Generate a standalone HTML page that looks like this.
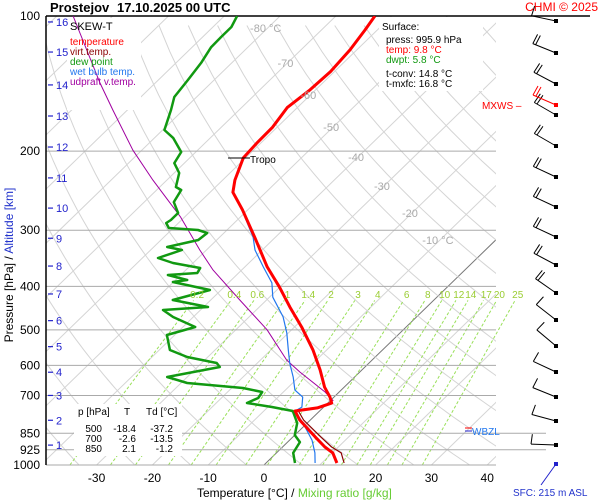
<!DOCTYPE html>
<html><head><meta charset="utf-8"><style>
html,body{margin:0;padding:0;background:#fff;}
svg{display:block;font-family:"Liberation Sans",sans-serif;}
</style></head><body>
<svg id="c" width="600" height="500" viewBox="0 0 600 500">
<defs>
<clipPath id="plot"><rect x="46" y="16" width="450" height="449"/></clipPath>
<clipPath id="plotw"><rect x="46" y="16" width="480" height="449"/></clipPath>
</defs>
<g id="grid" clip-path="url(#plot)"></g>
<g id="mix" clip-path="url(#plotw)"></g>
<g id="isobars"></g>
<g id="boxes">
<rect x="67" y="18" width="74" height="92" fill="#fff"/>
<rect x="379" y="17" width="104" height="74" fill="#fff"/>
<rect x="74" y="404" width="108" height="52" fill="#fff"/>
</g>
<g id="series" clip-path="url(#plot)"></g>
<g id="labels"></g>
</svg>
<script>
// ---- data ----
const isobarLevels=[200,300,400,500,600,700,850,925,1000];
const tempTicks=[-30,-20,-10,0,10,20,30,40];
const isothermLabels=[-80,-70,-60,-50,-40,-30,-20,-10];
const mixRatios=[0.2,0.4,0.6,1,1.4,2,3,4,6,8,10,12,14,17,20,25];
const altKm=[16,15,14,13,12,11,10,9,8,7,6,5,4,3,2,1];
const altPres=[103.1,120.3,142.4,167,195.8,229.4,267.8,312.6,360.5,416,477,545,621.4,700,795,903];
const tempP=[100,107.4,119,133,146,160,177,192,207,232,247,270,311,362,402,445,493,554,614,671,706,728,746,758,794,866,912,940,990];
const tempT=[-63,-62.2,-61.2,-60.7,-61,-61.8,-60.8,-60.7,-60.4,-57.8,-55.9,-51,-43.7,-36,-30,-24.5,-18.7,-12.5,-7.5,-3.5,-0.7,0.7,-1,-4.4,-1.9,4,7.6,10.1,12.7];
const virtP=[746,758,794,866,912,940,990];
const virtT=[-0.6,-3.8,-1.2,5.0,8.8,11.6,14.0];
const wetP=[100,107.4,119,133,146,160,177,192,207,232,247,270,311,332,362,393,423,468,508,554,593,637,681,706,743,758,806,880,940,990];
const wetT=[-63.1,-62.3,-61.3,-60.8,-61.1,-61.9,-60.9,-60.8,-60.5,-57.9,-56,-51.1,-44,-41.3,-36.7,-32.2,-29.4,-23.9,-20.3,-16.9,-14.2,-11,-8.3,-5.6,-3.9,-4.4,-0.8,4,6.9,8.8];
const dewP=[100,105.8,111.4,117.3,127.2,138.8,151.5,161.9,179.4,187,200.9,212.6,223.7,240.4,244.1,259.7,274.7,284.7,289.1,296.6,299.7,304.3,315.4,326.9,332,345.9,354.9,364.1,373.6,377.4,387.3,391.2,407.6,429.1,444.7,451.7,468.2,492.8,513.4,554.4,574.8,592.8,605.1,636.8,656.7,673.7,687.7,709.2,727.6,742.7,758.2,806.4,857.7,889,940,990];
const dewT=[-87.7,-86.7,-86.7,-86.6,-85.5,-84.7,-84,-82.2,-79.7,-76.6,-72.6,-71.8,-69.1,-67.1,-65.6,-64.7,-61.9,-61.9,-62.2,-60.8,-55.2,-53,-53.3,-57.6,-54.4,-57.2,-53.6,-47.8,-47.4,-52.3,-47.9,-50.1,-42,-46.8,-39.2,-46.7,-43.6,-37.8,-41.4,-38.1,-33.7,-27.3,-26,-33.6,-28.9,-18,-13.8,-13.4,-14.5,-9.3,-4.8,-1.8,0,2.2,3,5.2];
const parcelP=[100,141,162,199,232,280,332,368,429,500,584,621,688,720];
const parcelT=[-117.1,-99.9,-92.6,-81.6,-72.5,-60.8,-51.2,-45.1,-34.8,-24.4,-15.3,-10.7,-2.5,0.6];
const windY=[21,53,84,115,146,177,207,237,265,293,320,346,372,397,421,445];
const windAng=[-12,-22,-28,-30,-30,-25,-25,-25,-28,-35,-38,-40,-25,-22,-15,-2];
const windFeathers=[1,2,2,2,2,2,2,2,2,2,1,1,1,1,1,1];

// ---- axes ----
const NS='http://www.w3.org/2000/svg';
function yP(p){return 16+Math.log10(p/100)*449;}
function xT(t,p){return 264+5.58*t+1.03*(465-yP(p));}
function mk(tag,attrs,parent){const e=document.createElementNS(NS,tag);for(const k in attrs)e.setAttribute(k,attrs[k]);parent.appendChild(e);return e;}
function txt(s,x,y,attrs,parent){const e=mk('text',Object.assign({x:x,y:y,'font-size':11},attrs),parent);e.textContent=s;return e;}
const grid=document.getElementById('grid'),mix=document.getElementById('mix'),iso=document.getElementById('isobars'),ser=document.getElementById('series'),lab=document.getElementById('labels');

for(let t=-150;t<=50;t+=10){
  const l=mk('line',{x1:xT(t,1000),y1:yP(1000),x2:xT(t,100),y2:yP(100),stroke:t===0?'#777':'#d4d4d4','stroke-width':1},grid);
  
  
}
for(let th=240;th<=500;th+=10){
  let d='';
  for(let p=1050;p>=95;p-=15){const T=th*Math.pow(p/1000,0.286)-273.15;d+=(d?'L':'M')+xT(T,p).toFixed(1)+','+yP(p).toFixed(1);}
  const a=mk('path',{d:d,fill:'none',stroke:'#d4d4d4','stroke-width':1},grid);
  
  
}
function tdOf(w,p){const e=w*p/(622+w);const l=Math.log(e/6.112);return 243.5*l/(17.67-l);}
mixRatios.forEach(w=>{
  const m=mk('line',{x1:xT(tdOf(w,1000),1000),y1:yP(1000),x2:xT(tdOf(w,430),430),y2:yP(430),stroke:'#9ae05a','stroke-width':1,'stroke-dasharray':'3,2'},mix);
  
  
  const tl=txt(String(w),xT(tdOf(w,420),420),298,{fill:'#9acd32','text-anchor':'middle','font-size':10},lab);
  
  
});
isobarLevels.forEach(p=>{
  const right=(p===850||p===925)?546:496;
  const l=mk('line',{x1:46,y1:yP(p),x2:right,y2:yP(p),stroke:'#aaa','stroke-width':1},iso);
  
  
  const t=txt(String(p),40,yP(p)+4,{'text-anchor':'end','font-size':12},lab);
  
  
});
mk('line',{x1:46,y1:16,x2:590,y2:16,stroke:'#000','stroke-width':1.5},iso);
mk('line',{x1:46,y1:16,x2:46,y2:465,stroke:'#000','stroke-width':1.5},iso);
txt('100',40,20,{'text-anchor':'end','font-size':12},lab);
tempTicks.forEach(t=>{
  const e=txt(String(t),xT(t,1000),482,{'text-anchor':'middle','font-size':12},lab);
  
  
});
const isoLabY=[28,63,95,127,157,186,213,240];
isothermLabels.forEach((t,i)=>{
  const yy=isoLabY[i];
  const p=100*Math.pow(10,(yy-16)/449);
  const s=(t===-80||t===-10)?t+' °C':String(t);
  const e=txt(s,xT(t,p)-2,yy+4,{fill:'#aaa','text-anchor':'middle','font-size':11},lab);
  
  
});
altKm.forEach((k,i)=>{
  const y=yP(altPres[i]);
  mk('line',{x1:48,y1:y,x2:53,y2:y,stroke:'#22c','stroke-width':1.2},lab);
  const e=txt(String(k),56,y+4,{fill:'#22c','font-size':11},lab);
  
  
});

function line(P,T,color,w,name){
  let d='';P.forEach((p,i)=>{d+=(i?'L':'M')+xT(T[i],p).toFixed(1)+','+yP(p).toFixed(1);});
  const e=mk('path',{d:d,fill:'none',stroke:color,'stroke-width':w,'stroke-linejoin':'round'},ser);
  
  
}
line(parcelP,parcelT,'#a000a0',1,'updraft-virtual-temp-line');
line(dewP,dewT,'#119911',2.5,'dew-point-line');
line(wetP,wetT,'#2277ee',1.2,'wet-bulb-line');
line(virtP,virtT,'#8b0000',1.2,'virtual-temp-line');
line(tempP,tempT,'#ff0000',3,'temperature-line');

windY.forEach((y,i)=>{
  const a=windAng[i]*Math.PI/180, L=25;
  const ex=556-L*Math.cos(a), ey=y+L*Math.sin(a);
  const g=mk('g',{},lab);
  
  
  mk('line',{x1:556,y1:y,x2:ex,y2:ey,stroke:'#000','stroke-width':1},g);
  mk('rect',{x:554,y:y-2,width:4,height:4,fill:'#000'},g);
  for(let f=0;f<windFeathers[i];f++){
    const bx=ex+f*3*Math.cos(a), by=ey-f*3*Math.sin(a);
    mk('line',{x1:bx,y1:by,x2:bx-10*Math.sin(a)+1,y2:by-10*Math.cos(a),stroke:'#000','stroke-width':1},g);
  }
});
mk('line',{x1:556,y1:105,x2:533,y2:95,stroke:'#f00','stroke-width':1},lab);
mk('rect',{x:554,y:103,width:4,height:4,fill:'#f00'},lab);
mk('line',{x1:533,y1:95,x2:538,y2:86,stroke:'#f00','stroke-width':1},lab);
mk('line',{x1:536,y1:96,x2:541,y2:87,stroke:'#f00','stroke-width':1},lab);
mk('rect',{x:554,y:462,width:4,height:4,fill:'#22c'},lab);
mk('line',{x1:556,y1:464,x2:541,y2:485,stroke:'#22c','stroke-width':1},lab);
</script>
<svg width="600" height="500" style="position:absolute;left:0;top:0">
<g font-family="Liberation Sans, sans-serif">
<text x="50" y="12" font-size="13" font-weight="bold">Prostejov</text>
<text x="117" y="12" font-size="13" font-weight="bold">17.10.2025 00 UTC</text>
<text x="598" y="11" font-size="12" fill="#ff0000" text-anchor="end">CHMI © 2025</text>
<g font-size="10">
<text x="70" y="30" font-size="11" fill="#000">SKEW-T</text>
<text x="70" y="45" fill="#ff0000">temperature</text>
<text x="70" y="55" fill="#8b0000">virt.temp.</text>
<text x="70" y="65" fill="#119911">dew point</text>
<text x="70" y="75" fill="#2277ee">wet bulb temp.</text>
<text x="70" y="85" fill="#a000a0">udpraft v.temp.</text>
</g>
<g font-size="10">
<text x="382" y="30">Surface:</text>
<text x="386" y="43">press: 995.9 hPa</text>
<text x="386" y="53" fill="#ff0000">temp: 9.8 °C</text>
<text x="386" y="63" fill="#119911">dwpt: 5.8 °C</text>
<text x="386" y="77">t-conv: 14.8 °C</text>
<text x="386" y="87">t-mxfc: 16.8 °C</text>
</g>
<text x="482" y="109" font-size="10" fill="#ff0000">MXWS –</text>
<line x1="228" y1="158" x2="250" y2="158" stroke="#000" stroke-width="1"/>
<text x="250" y="163" font-size="10">Tropo</text>
<line x1="465" y1="428" x2="472" y2="428" stroke="#f00"/>
<line x1="465" y1="431" x2="472" y2="431" stroke="#22c"/>
<text x="472" y="435" font-size="10" fill="#2277ee">WBZL</text>
<g font-size="10">
<text x="78" y="415">p [hPa]</text><text x="124" y="415">T</text><text x="146" y="415">Td [°C]</text>
<text x="102" y="432" text-anchor="end">500</text><text x="136" y="432" text-anchor="end">-18.4</text><text x="173" y="432" text-anchor="end">-37.2</text>
<text x="102" y="442" text-anchor="end">700</text><text x="136" y="442" text-anchor="end">-2.6</text><text x="173" y="442" text-anchor="end">-13.5</text>
<text x="102" y="452" text-anchor="end">850</text><text x="136" y="452" text-anchor="end">2.1</text><text x="173" y="452" text-anchor="end">-1.2</text>
</g>
<text x="197" y="497" font-size="12">Temperature [°C]  /  <tspan fill="#66cc33">Mixing ratio [g/kg]</tspan></text>
<text transform="translate(13,265) rotate(-90)" text-anchor="middle" font-size="12">Pressure [hPa]  /  <tspan fill="#2233cc">Altitude [km]</tspan></text>
<text x="513" y="496" font-size="10" fill="#2233cc">SFC: 215 m ASL</text>
</g>
</svg>
</body></html>
